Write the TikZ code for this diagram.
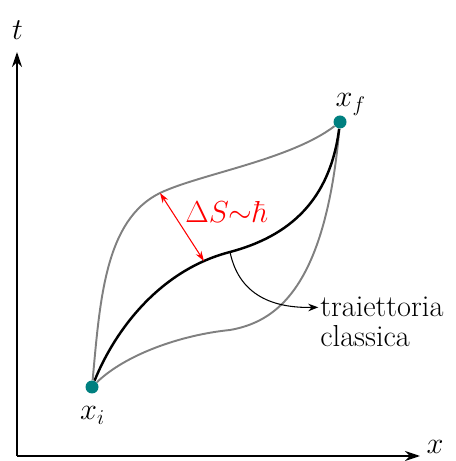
\documentclass[tikz,border=0pt]{standalone}
\usetikzlibrary{positioning,arrows.meta}

\begin{document}
\begin{tikzpicture}[
  lbl/.style={font=\LARGE, inner sep=1pt},
  endpt/.style={circle, fill=teal, inner sep=0pt, minimum size=2.6mm},
  axis/.style={draw=black, line width=1.2pt, -{Stealth[length=3mm,width=2mm]}},
  classic/.style={draw=black, line width=1.4pt},
  altpath/.style={draw=black!50, line width=1.1pt},
  spread/.style={draw=red, line width=0.6pt, {Stealth[length=2mm,width=1.3mm]}-{Stealth[length=2mm,width=1.3mm]}},
  pointer/.style={draw=black, line width=0.6pt, -{Stealth[length=2mm,width=1.5mm]}}
]
\useasboundingbox (0,0) rectangle (9.1,9.22);

% axes
\coordinate (o) at (0.34,0.10);
\coordinate (tend) at (0.34,8.18);
\coordinate (xend) at (8.40,0.10);
\draw[axis] (o) -- (tend);
\draw[axis] (o) -- (xend);
\node[lbl, anchor=base] (tl) at (0.35,8.42) {$t$};
\node[lbl, inner sep=0pt, anchor=base] (xl) at (8.70,0.15) {$x$};

% end points
\node[endpt] (xi) at (1.84,1.48) {};
\node[endpt] (xf) at (6.80,6.78) {};
\node[lbl, anchor=base west] (xil) at (1.56,0.82) {$x_i$};
\node[lbl, anchor=base west] (xfl) at (6.67,7.08) {$x_f$};

% paths
\draw[altpath] (xi) .. controls (2.00,3.22) and (2.10,4.82) .. (3.20,5.36) coordinate (up)
  .. controls (4.00,5.74) and (5.80,6.02) .. (xf);
\draw[altpath] (xi) .. controls (2.50,2.12) and (3.60,2.52) .. (4.60,2.62)
  .. controls (5.50,2.78) and (6.50,3.42) .. (xf);
\draw[classic] (xi) .. controls (2.30,2.62) and (3.20,3.82) .. (4.60,4.18) coordinate[pos=0.87] (dsb) coordinate (cl)
  .. controls (5.80,4.50) and (6.60,5.22) .. (xf);

% action spread
\draw[spread] (up) -- (dsb);
\node[lbl, text=red, anchor=base west] (dS) at (3.665,4.76) {$\Delta S{\sim}\hbar$};

% label of the classical path
\node[lbl, anchor=base west] (trai) at (6.365,2.88) {traiettoria};
\node[lbl, anchor=base west] (clas) at (6.365,2.28) {classica};
\draw[pointer] (cl) .. controls (4.80,3.22) and (5.60,3.06) .. (trai.west);

\end{tikzpicture}
\end{document}
